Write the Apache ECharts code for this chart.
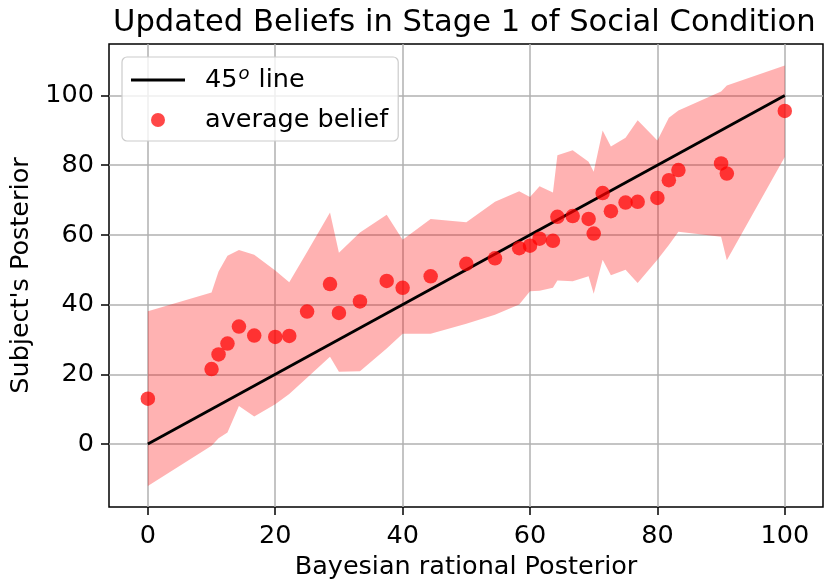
<!DOCTYPE html>
<html>
<head>
<meta charset="utf-8">
<script src="https://cdn.jsdelivr.net/npm/echarts@6/dist/echarts.min.js"></script>
<style>
  html, body { margin: 0; padding: 0; background: #fff; }
  #chart { width: 825px; height: 585px; }
</style>
</head>
<body>
<div id="chart"></div>
<script>
// Bayesian rational posterior (x) for each stage-1 case
const bayesX = [0, 10, 11.1, 12.5, 14.3, 16.7, 20, 22.2, 25, 28.6, 30, 33.3, 37.5, 40, 44.4,
  50, 54.5, 58.3, 60, 61.5, 63.6, 64.3, 66.7, 69.2, 70, 71.4, 72.7, 75, 76.9, 80, 81.8, 83.3,
  90, 90.9, 100];
// average subject posterior
const avgBelief = [13, 21.5, 25.7, 28.8, 33.7, 31.1, 30.7, 31.0, 38.0, 45.9, 37.6, 40.9, 46.8, 44.8, 48.1,
  51.7, 53.3, 56.2, 56.9, 58.9, 58.3, 65.2, 65.4, 64.6, 60.4, 72.0, 66.8, 69.3, 69.5, 70.6, 75.7, 78.6,
  80.5, 77.6, 95.6];
// shaded band, upper and lower edge
const bandUpper = [38.1, 43.5, 49.5, 54.0, 55.7, 54.3, 49.8, 46.4, 55.1, 66.4, 54.9, 60.7, 65.8, 58.6, 64.6,
  63.6, 69.5, 72.5, 70.9, 74.0, 72.2, 82.9, 84.3, 81.0, 78.1, 90.0, 85.4, 87.9, 92.9, 87.1, 93.6, 95.7,
  101.2, 102.9, 108.6];
const bandLower = [-12.1, -0.5, 1.6, 3.3, 10.9, 7.9, 11.4, 14.3, 19.0, 25.0, 20.7, 20.9, 27.4, 31.6, 31.6,
  34.5, 37.1, 40.0, 43.8, 44.0, 44.8, 46.9, 46.7, 48.1, 43.1, 52.9, 48.4, 50.0, 46.2, 52.9, 57.1, 60.9,
  59.5, 52.7, 82.4];
// 45 degree reference line
const lineX = [0, 100];
const lineY = [0, 100];
const xTicks = [0, 20, 40, 60, 80, 100];
const yTicks = [0, 20, 40, 60, 80, 100];

const FONT = 'DejaVu Sans';
const chart = echarts.init(document.getElementById('chart'), null, { renderer: 'canvas' });

const option = {
  animation: false,
  backgroundColor: '#fff',
  textStyle: { fontFamily: FONT },
  title: {
    text: 'Updated Beliefs in Stage 1 of Social Condition',
    left: 108,
    top: 3,
    textStyle: { fontFamily: FONT, fontSize: 30.6, fontWeight: 'normal', color: '#000' }
  },
  grid: {
    left: 109, right: 2, top: 44, bottom: 77,
    show: true, borderColor: '#000', borderWidth: 1.5, backgroundColor: 'transparent'
  },
  legend: {
    orient: 'vertical',
    left: 122,
    top: 57,
    padding: [8, 10, 8, 9],
    itemGap: 12,
    itemWidth: 54,
    itemHeight: 14,
    backgroundColor: 'rgba(255,255,255,0.8)',
    borderColor: '#cccccc',
    borderWidth: 1.2,
    borderRadius: 5,
    data: [
      { name: '45o line', icon: 'path://M0,0H54V2.8H0Z' },
      { name: 'average belief', icon: 'circle' }
    ],
    formatter: name => name === '45o line' ? '45{sup|o} line' : name,
    textStyle: {
      fontFamily: FONT, fontSize: 25.5, color: '#000', padding: [0, 0, 0, 15],
      rich: { sup: { fontFamily: FONT, fontSize: 18, fontStyle: 'italic', padding: [0, 1, 12, 1], lineHeight: 18 } }
    }
  },
  xAxis: {
    type: 'value',
    min: -6.1,
    max: 106,
    name: 'Bayesian rational Posterior',
    nameLocation: 'middle',
    nameGap: 47,
    nameTextStyle: { fontFamily: FONT, fontSize: 25.5, color: '#000' },
    axisLine: { show: false, onZero: false },
    axisTick: { show: true, length: 8, customValues: xTicks, lineStyle: { color: '#000', width: 1.5 } },
    axisLabel: { customValues: xTicks, margin: 16, fontFamily: FONT, fontSize: 25.5, color: '#000' },
    splitLine: { show: true, lineStyle: { color: '#b0b0b0', width: 1.5 } }
  },
  yAxis: {
    type: 'value',
    min: -18.1,
    max: 114.8,
    name: "Subject's Posterior",
    nameLocation: 'middle',
    nameGap: 70,
    nameTextStyle: { fontFamily: FONT, fontSize: 25.5, color: '#000' },
    axisLine: { show: false, onZero: false },
    axisTick: { show: true, length: 8, customValues: yTicks, lineStyle: { color: '#000', width: 1.5 } },
    axisLabel: { customValues: yTicks, margin: 15, fontFamily: FONT, fontSize: 25.5, color: '#000' },
    splitLine: { show: true, lineStyle: { color: '#b0b0b0', width: 1.5 } }
  },
  series: [
    {
      name: 'band',
      type: 'custom',
      silent: true,
      z: 1,
      data: [[0, 0]],
      renderItem: (params, api) => {
        const pts = [];
        for (let i = 0; i < bayesX.length; i++) pts.push(api.coord([bayesX[i], bandUpper[i]]));
        for (let i = bayesX.length - 1; i >= 0; i--) pts.push(api.coord([bayesX[i], bandLower[i]]));
        return { type: 'polygon', shape: { points: pts }, style: { fill: 'rgba(255,0,0,0.3)' } };
      }
    },
    {
      name: '45o line',
      type: 'line',
      z: 3,
      symbol: 'none',
      data: lineX.map((x, i) => [x, lineY[i]]),
      lineStyle: { color: '#000', width: 2.8 },
      itemStyle: { color: '#000' }
    },
    {
      name: 'average belief',
      type: 'scatter',
      z: 4,
      symbolSize: 14.5,
      data: bayesX.map((x, i) => [x, avgBelief[i]]),
      itemStyle: { color: 'rgba(255,0,0,0.9)' }
    }
  ]
};

chart.setOption(option);
</script>
</body>
</html>
